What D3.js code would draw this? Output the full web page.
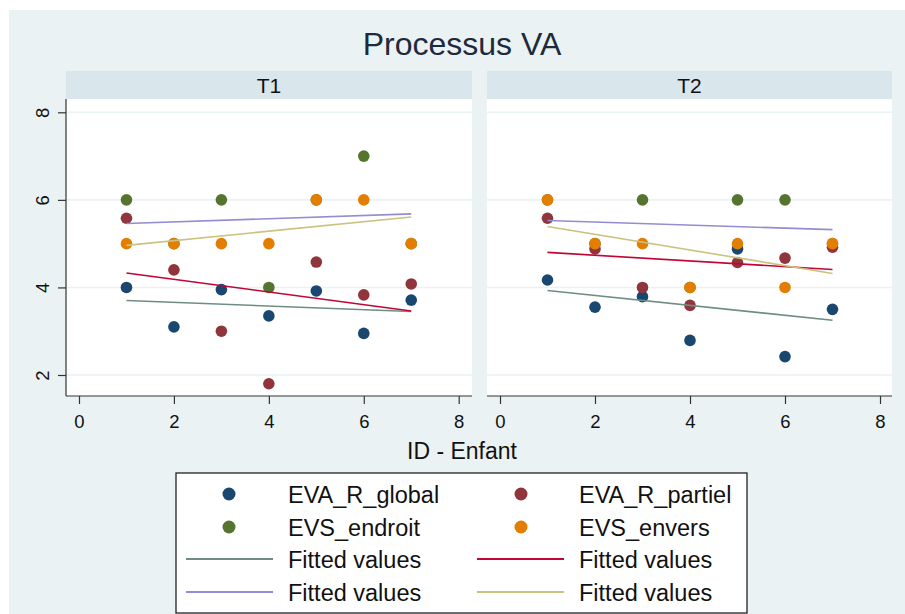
<!DOCTYPE html>
<html>
<head>
<meta charset="utf-8">
<script src="https://cdn.jsdelivr.net/npm/d3@7"></script>
<style>
  html, body { margin: 0; padding: 0; background: #ffffff; }
  svg { display: block; }
  text { font-family: "Liberation Sans", Arial, sans-serif; }
</style>
</head>
<body>
<svg id="chart" width="905" height="614"></svg>
<script>
// ---------- DATA ----------
const ids = [1, 2, 3, 4, 5, 6, 7];
const panels = ["T1", "T2"];
const seriesNames = ["EVA_R_global", "EVA_R_partiel", "EVS_endroit", "EVS_envers"];

// T1 observed values (by ID 1..7)
const t1_EVA_R_global  = [4.00, 3.10, 3.95, 3.35, 3.92, 2.95, 3.71];
const t1_EVA_R_partiel = [5.58, 4.40, 3.00, 1.80, 4.58, 3.83, 4.08];
const t1_EVS_endroit   = [6, 5, 6, 4, 6, 7, 5];
const t1_EVS_envers    = [5, 5, 5, 5, 6, 6, 5];

// T2 observed values (by ID 1..7)
const t2_EVA_R_global  = [4.17, 3.55, 3.79, 2.79, 4.88, 2.42, 3.50];
const t2_EVA_R_partiel = [5.58, 4.88, 4.00, 3.59, 4.57, 4.67, 4.92];
const t2_EVS_endroit   = [6, 5, 6, 4, 6, 6, 5];
const t2_EVS_envers    = [6, 5, 5, 4, 5, 4, 5];

// Fitted values (read at ID = 1 and ID = 7)
const fitX = [1, 7];
const t1_fit_EVA_R_global  = [3.70, 3.45];
const t1_fit_EVA_R_partiel = [4.33, 3.46];
const t1_fit_EVS_endroit   = [5.46, 5.68];
const t1_fit_EVS_envers    = [4.96, 5.61];
const t2_fit_EVA_R_global  = [3.93, 3.25];
const t2_fit_EVA_R_partiel = [4.80, 4.41];
const t2_fit_EVS_endroit   = [5.53, 5.32];
const t2_fit_EVS_envers    = [5.39, 4.32];

const xTicks = [0, 2, 4, 6, 8];
const yTicks = [2, 4, 6, 8];
const titleText = "Processus VA";
const xTitle = "ID - Enfant";
const legendLabels = ["EVA_R_global", "EVA_R_partiel", "EVS_endroit", "EVS_envers",
                      "Fitted values", "Fitted values", "Fitted values", "Fitted values"];

// ---------- STYLE ----------
const markerColors = ["#1a476f", "#90353b", "#55752f", "#e37e00"];
const lineColors   = ["#6e8e84", "#c10534", "#938dd2", "#cac27e"];
const bgColor = "#eaf2f3";
const stripColor = "#d9e6eb";
const gridColor = "#eaf2f3";
const axisColor = "#333333";

const points = {
  T1: [t1_EVA_R_global, t1_EVA_R_partiel, t1_EVS_endroit, t1_EVS_envers],
  T2: [t2_EVA_R_global, t2_EVA_R_partiel, t2_EVS_endroit, t2_EVS_envers]
};
const fits = {
  T1: [t1_fit_EVA_R_global, t1_fit_EVA_R_partiel, t1_fit_EVS_endroit, t1_fit_EVS_envers],
  T2: [t2_fit_EVA_R_global, t2_fit_EVA_R_partiel, t2_fit_EVS_endroit, t2_fit_EVS_envers]
};

// ---------- LAYOUT ----------
const svg = d3.select("#chart");
svg.append("rect").attr("x", 9).attr("y", 10).attr("width", 896).attr("height", 604).attr("fill", bgColor);

svg.append("text").attr("x", 462).attr("y", 55).attr("text-anchor", "middle")
  .attr("font-size", 32).attr("fill", "#1c2a3c").text(titleText);

const panelBox = {
  T1: { x0: 66, x1: 472, xr: [79, 458.7] },
  T2: { x0: 487, x1: 892, xr: [500, 880] }
};
const stripTop = 71, plotTop = 99, plotBottom = 396;
const y = d3.scaleLinear().domain([2, 8]).range([375, 112.3]);

panels.forEach((p, pi) => {
  const b = panelBox[p];
  const x = d3.scaleLinear().domain([0, 8]).range(b.xr);
  const g = svg.append("g");

  // strip
  g.append("rect").attr("x", b.x0).attr("y", stripTop).attr("width", b.x1 - b.x0)
    .attr("height", plotTop - stripTop).attr("fill", stripColor);
  g.append("text").attr("x", (b.x0 + b.x1) / 2).attr("y", 92.5).attr("text-anchor", "middle")
    .attr("font-size", 21).attr("fill", "#111").text(p);

  // plot area
  g.append("rect").attr("x", b.x0).attr("y", plotTop).attr("width", b.x1 - b.x0)
    .attr("height", plotBottom - plotTop).attr("fill", "#ffffff");

  // gridlines
  g.selectAll(".grid").data(yTicks).join("line")
    .attr("x1", b.x0).attr("x2", b.x1)
    .attr("y1", d => y(d)).attr("y2", d => y(d))
    .attr("stroke", gridColor).attr("stroke-width", 1.6);

  // x axis
  const xa = g.append("g").attr("transform", `translate(0,${plotBottom})`)
    .call(d3.axisBottom(x).tickValues(xTicks).tickFormat(d3.format("d")).tickSize(8).tickSizeOuter(0));
  xa.select(".domain").remove();
  xa.selectAll(".tick line").attr("stroke", axisColor).attr("stroke-width", 1.2);
  xa.selectAll(".tick text").attr("y", 32).attr("dy", 0)
    .attr("font-size", 18.5).attr("fill", "#111")
    .style("font-family", "'Liberation Sans', Arial, sans-serif");
  g.append("line").attr("x1", b.x0).attr("x2", b.x1).attr("y1", plotBottom).attr("y2", plotBottom)
    .attr("stroke", axisColor).attr("stroke-width", 1.2);

  // y axis (first panel only)
  if (pi === 0) {
    const ya = g.append("g").attr("transform", `translate(${b.x0},0)`)
      .call(d3.axisLeft(y).tickValues(yTicks).tickFormat(d3.format("d")).tickSize(8).tickSizeOuter(0));
    ya.select(".domain").remove();
    ya.selectAll(".tick line").attr("stroke", axisColor).attr("stroke-width", 1.2);
    ya.selectAll(".tick text")
      .attr("transform", "rotate(-90)")
      .attr("text-anchor", "middle")
      .attr("x", 0).attr("y", -23).attr("dy", "0.35em")
      .attr("font-size", 18.5).attr("fill", "#111")
      .style("font-family", "'Liberation Sans', Arial, sans-serif");
    g.append("line").attr("x1", b.x0).attr("x2", b.x0).attr("y1", plotTop).attr("y2", plotBottom)
      .attr("stroke", axisColor).attr("stroke-width", 1.2);
  }

  // points
  points[p].forEach((vals, si) => {
    g.append("g").selectAll("circle").data(vals).join("circle")
      .attr("cx", (d, i) => x(ids[i])).attr("cy", d => y(d)).attr("r", 5.8)
      .attr("fill", markerColors[si]);
  });

  // fitted lines
  const line = d3.line().x((d, i) => x(fitX[i])).y(d => y(d));
  fits[p].forEach((vals, si) => {
    g.append("path").datum(vals).attr("d", line).attr("fill", "none")
      .attr("stroke", lineColors[si]).attr("stroke-width", 1.6);
  });
});

// x axis title
svg.append("text").attr("x", 462).attr("y", 459).attr("text-anchor", "middle")
  .attr("font-size", 23).attr("fill", "#111").text(xTitle);

// ---------- LEGEND ----------
const lg = svg.append("g");
lg.append("rect").attr("x", 176).attr("y", 473).attr("width", 571).attr("height", 140)
  .attr("fill", "#ffffff").attr("stroke", "#222").attr("stroke-width", 1.3);
const rowY = [494, 527, 559, 592];
const colMarkerX = [229, 521], colLine = [[186, 273], [477, 564]], colTextX = [288, 579];
legendLabels.forEach((lab, i) => {
  const row = Math.floor(i / 2), col = i % 2;
  const yy = rowY[row];
  if (i < 4) {
    lg.append("circle").attr("cx", colMarkerX[col]).attr("cy", yy).attr("r", 6.5)
      .attr("fill", markerColors[i]);
  } else {
    lg.append("line").attr("x1", colLine[col][0]).attr("x2", colLine[col][1])
      .attr("y1", yy).attr("y2", yy).attr("stroke", lineColors[i - 4]).attr("stroke-width", 2);
  }
  lg.append("text").attr("x", colTextX[col]).attr("y", yy + 8.5)
    .attr("font-size", 23.5).attr("fill", "#111").text(lab);
});
</script>
</body>
</html>
